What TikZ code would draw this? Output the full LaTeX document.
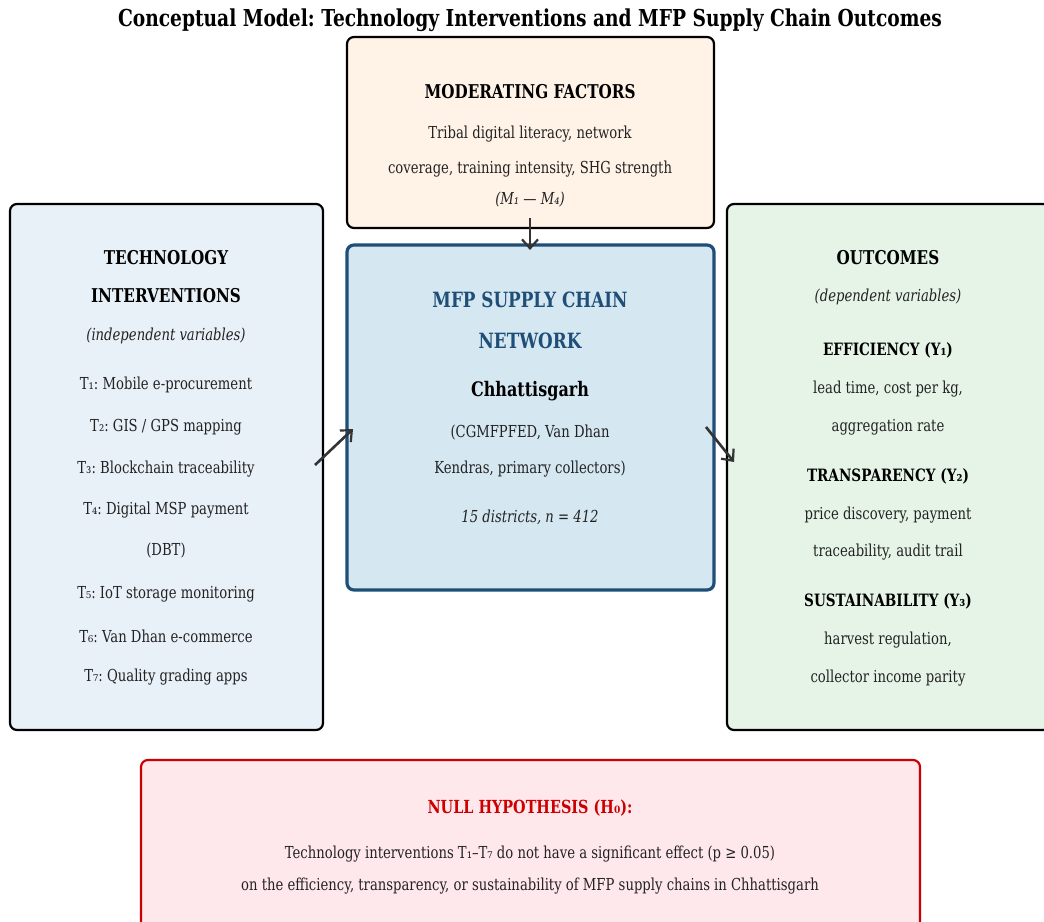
\documentclass[tikz,border=0pt]{standalone}
\usepackage{fontspec}
\setmainfont[FakeStretch=0.80]{DejaVu Serif}
\usetikzlibrary{arrows.meta}
\frenchspacing

\definecolor{modfill}{HTML}{FFF2E6}
\definecolor{netfill}{HTML}{D5E7F0}
\definecolor{netdraw}{HTML}{1F4E79}
\definecolor{techfill}{HTML}{E8F0F8}
\definecolor{outfill}{HTML}{E6F4E8}
\definecolor{nullfill}{HTML}{FFE8EB}
\definecolor{nulldraw}{HTML}{CC0000}
\definecolor{arrowgray}{HTML}{333333}
\definecolor{textgray}{HTML}{222222}

\begin{document}
\begin{tikzpicture}[x=1pt,y=-1pt,
    box/.style={draw, line width=2.2pt, rounded corners=7pt, inner sep=0pt},
    head/.style={font=\fontsize{19}{22}\selectfont\bfseries},
    body/.style={font=\fontsize{16.5}{19}\selectfont, text=textgray},
    note/.style={font=\fontsize{16.5}{19}\selectfont\itshape, text=textgray},
    flow/.style={draw=arrowgray, line width=2.6pt, -{Straight Barb[length=9pt,width=16pt,line width=2.2pt]}}]
  \useasboundingbox[fill=white] (0,0) rectangle (1044,921);

  % title
  \node[font=\fontsize{23.3}{26}\selectfont\bfseries] (title) at (530,20)
    {Conceptual Model: Technology Interventions and MFP Supply Chain Outcomes};

  % boxes
  \node[box, fill=modfill, minimum width=367pt, minimum height=191pt] (moderating) at (530.5,132.5) {};
  \node[box, draw=netdraw, line width=3.2pt, fill=netfill, minimum width=367pt, minimum height=345pt] (network) at (530.5,417.5) {};
  \node[box, fill=techfill, minimum width=313pt, minimum height=526pt] (tech) at (166.5,467) {};
  \node[box, fill=outfill, minimum width=323pt, minimum height=526pt] (outcomes) at (888.5,467) {};
  \node[box, draw=nulldraw, fill=nullfill, minimum width=779pt, minimum height=180pt] (null) at (530.5,850) {};

  % moderating factors
  \node[head] (modhead) at (530,92) {MODERATING FACTORS};
  \node[body] (mod1) at (530,134) {Tribal digital literacy, network};
  \node[body] (mod2) at (530,169) {coverage, training intensity, SHG strength};
  \node[note] (mod3) at (530,200) {(M₁ — M₄)};

  % network
  \node[head, text=netdraw, font=\fontsize{21}{24}\selectfont\bfseries] (nethead1) at (530,300) {MFP SUPPLY CHAIN};
  \node[head, text=netdraw, font=\fontsize{21}{24}\selectfont\bfseries] (nethead2) at (530,341) {NETWORK};
  \node[head, font=\fontsize{20}{23}\selectfont\bfseries] (state) at (530,391) {Chhattisgarh};
  \node[body] (net1) at (530,433) {(CGMFPFED, Van Dhan};
  \node[body] (net2) at (530,469) {Kendras, primary collectors)};
  \node[note] (net3) at (530,517) {15 districts, n = 412};

  % technology interventions
  \node[head] (techhead1) at (166,258) {TECHNOLOGY};
  \node[head] (techhead2) at (166,296) {INTERVENTIONS};
  \node[note] (techsub) at (166,336) {(independent variables)};
  \foreach \y/\t [count=\i] in {385/{T₁: Mobile e-procurement}, 427/{T₂: GIS / GPS mapping},
      469/{T₃: Blockchain traceability}, 510/{T₄: Digital MSP payment}, 551/{(DBT)},
      594/{T₅: IoT storage monitoring}, 636/{T₆: Van Dhan e-commerce}, 677/{T₇: Quality grading apps}}{
    \node[body] (tech\i) at (166,\y) {\t};
  }

  % outcomes
  \node[head] (outhead) at (888,258) {OUTCOMES};
  \node[note] (outsub) at (888,297) {(dependent variables)};
  \foreach \y/\t [count=\i] in {350/{EFFICIENCY (Y₁)}, 476/{TRANSPARENCY (Y₂)}, 601/{SUSTAINABILITY (Y₃)}}{
    \node[body, text=black, font=\fontsize{17}{20}\selectfont\bfseries] (outkey\i) at (888,\y) {\t};
  }
  \foreach \y/\t [count=\i] in {389/{lead time, cost per kg,}, 427/{aggregation rate},
      515/{price discovery, payment}, 552/{traceability, audit trail},
      640/{harvest regulation,}, 678/{collector income parity}}{
    \node[body] (out\i) at (888,\y) {\t};
  }

  % null hypothesis
  \node[head, text=nulldraw, font=\fontsize{18}{21}\selectfont\bfseries] (nullhead) at (530,808) {NULL HYPOTHESIS (H₀):};
  \node[body] (null1) at (530,854) {Technology interventions T₁–T₇ do not have a significant effect (p ≥ 0.05)};
  \node[body] (null2) at (530,886) {on the efficiency, transparency, or sustainability of MFP supply chains in Chhattisgarh};

  % arrows
  \coordinate (modout) at (530,218);
  \coordinate (netin) at (530,250);
  \coordinate (techout) at (315,465);
  \coordinate (netleft) at (353,429);
  \coordinate (netright) at (706,427);
  \coordinate (outin) at (734,462);
  \draw[flow] (modout) -- (netin);
  \draw[flow] (techout) -- (netleft);
  \draw[flow] (netright) -- (outin);
\end{tikzpicture}
\end{document}
